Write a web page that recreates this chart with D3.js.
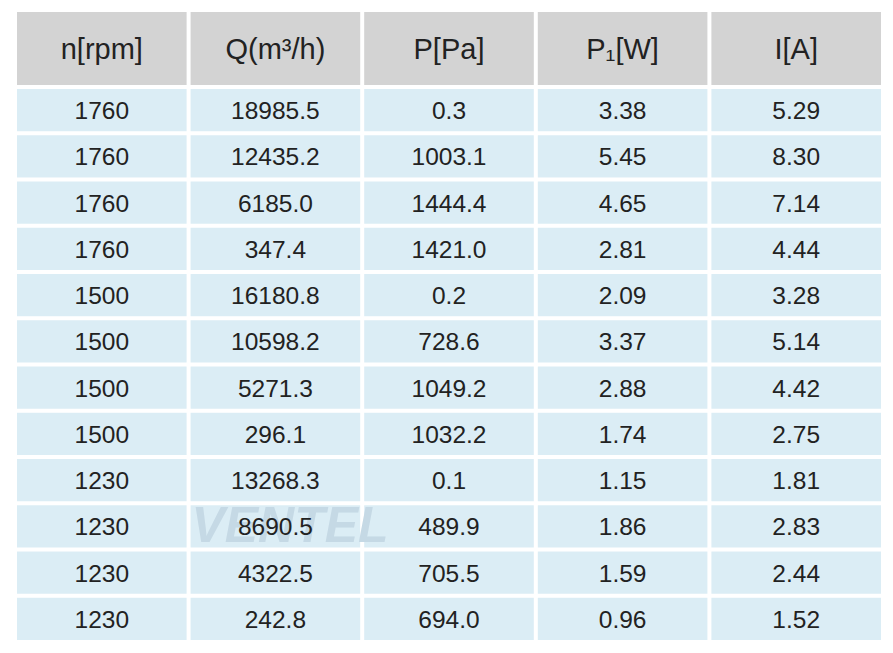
<!DOCTYPE html><html><head><meta charset="utf-8"><script src="https://cdn.jsdelivr.net/npm/d3@7"></script>
<style>body{margin:0;background:#fff}</style></head><body><svg id="c" width="893" height="653"></svg><script>
const headers=["n[rpm]","Q(m³/h)","P[Pa]","P₁[W]","I[A]"];
const rpm=["1760","1760","1760","1760","1500","1500","1500","1500","1230","1230","1230","1230"];
const flow=["18985.5","12435.2","6185.0","347.4","16180.8","10598.2","5271.3","296.1","13268.3","8690.5","4322.5","242.8"];
const pressure=["0.3","1003.1","1444.4","1421.0","0.2","728.6","1049.2","1032.2","0.1","489.9","705.5","694.0"];
const power=["3.38","5.45","4.65","2.81","2.09","3.37","2.88","1.74","1.15","1.86","1.59","0.96"];
const current=["5.29","8.30","7.14","4.44","3.28","5.14","4.42","2.75","1.81","2.83","2.44","1.52"];
const cols=[rpm,flow,pressure,power,current];
const svg=d3.select("#c");
const x=d3.scaleBand().domain(d3.range(5)).range([17,881]).paddingInner(0.023).paddingOuter(0);
const y=d3.scaleBand().domain(d3.range(12)).range([89,640]).paddingInner(0.087).paddingOuter(0);
const f="Liberation Sans, Arial, sans-serif";
headers.forEach((h,i)=>{
 svg.append("rect").attr("x",x(i)).attr("y",12).attr("width",x.bandwidth()).attr("height",73).attr("fill","#d3d3d3");
 svg.append("text").attr("x",x(i)+x.bandwidth()/2).attr("y",59).attr("text-anchor","middle").attr("font-family",f).attr("font-size",29).attr("fill","#222").text(h);
});
cols.forEach((c,i)=>c.forEach((v,j)=>{
 svg.append("rect").attr("x",x(i)).attr("y",y(j)).attr("width",x.bandwidth()).attr("height",y.bandwidth()).attr("fill","#dbedf5");
}));
svg.append("text").attr("x",290).attr("y",542).attr("text-anchor","middle").attr("font-family",f).attr("font-size",50).attr("font-weight","bold").attr("font-style","italic").attr("fill","#c5d9e5").text("VENTEL");
cols.forEach((c,i)=>c.forEach((v,j)=>{
 svg.append("text").attr("x",x(i)+x.bandwidth()/2).attr("y",y(j)+y.bandwidth()/2+9).attr("text-anchor","middle").attr("font-family",f).attr("font-size",24.5).attr("fill","#222").text(v);
}));
</script></body></html>
